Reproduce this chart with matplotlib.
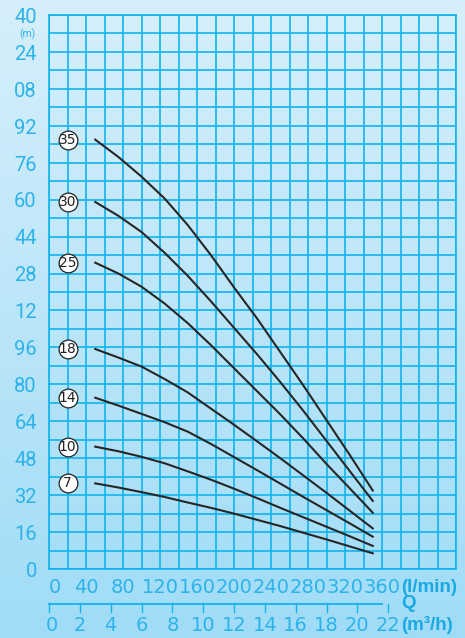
import numpy as np
import matplotlib
matplotlib.use('Agg')
import matplotlib.pyplot as plt

# Расход, л/мин (точки)
q_lmin = [50, 75, 100, 125, 150, 175, 200, 225, 250, 275, 300, 325, 350]

# Напор, м, для каждой модели (число ступеней)
head_35 = [186, 178.5, 170, 160.5, 149, 136, 122, 108.5, 94, 79.5, 64.5, 49.5, 34]
head_30 = [159, 153, 146, 137, 127, 116, 104.5, 93, 81, 68.5, 55.5, 42.5, 29.5]
head_25 = [132.7, 128, 122.3, 115, 106.5, 97, 87, 77, 67, 56.5, 45.5, 35, 24.4]
head_18 = [95.3, 91.6, 87.7, 82.3, 76.5, 69.5, 62.5, 55.3, 48, 40.5, 33, 25.3, 17.6]
head_14 = [74.2, 70.8, 67.2, 63.6, 59.5, 54.2, 48.5, 42.8, 37, 31.2, 25.5, 19.8, 14]
head_10 = [53, 51, 48.6, 45.8, 42.3, 38.7, 34.8, 30.7, 26.5, 22.4, 18.3, 14.2, 10]
head_7 = [37.1, 35.3, 33.3, 31.2, 28.8, 26.5, 24, 21.3, 18.6, 15.7, 12.8, 9.8, 6.8]

stages = ['35', '30', '25', '18', '14', '10', '7']
curves = [head_35, head_30, head_25, head_18, head_14, head_10, head_7]

# Подписи осей
y_ticks = list(range(0, 241, 16))
x_ticks = list(range(0, 361, 40))
q_m3h = list(range(0, 23, 2))

blue = '#10b4ee'
text_blue = '#2db3ea'

fig = plt.figure(figsize=(4.65, 6.38), dpi=100)

# Фон с градиентом
bg = fig.add_axes([0, 0, 1, 1])
grad = np.linspace(0, 1, 256).reshape(-1, 1)
top = np.array([0.84, 0.937, 0.984])
bottom = np.array([0.627, 0.863, 0.969])
img = top + (bottom - top) * grad[:, :, None]
bg.imshow(img, aspect='auto', extent=[0, 1, 0, 1])
bg.axis('off')

ax = fig.add_axes([49 / 465, 1 - 569 / 638, 407 / 465, 554 / 638])
ax.set_facecolor('none')
ax.set_xlim(0, 440)
ax.set_ylim(0, 240)
ax.set_xticks(np.arange(0, 441, 20))
ax.set_yticks(np.arange(0, 241, 8))
ax.grid(True, color=blue, lw=1.2)
ax.tick_params(length=0, labelbottom=False, labelleft=False)
for s in ax.spines.values():
    s.set_color(blue)
    s.set_linewidth(1.2)

# Кривые
for name, h in zip(stages, curves):
    ax.plot(q_lmin, h, color='#262626', lw=1.5, zorder=3, solid_joinstyle='round')
    ax.plot(20, h[0], 'o', ms=13.5, mfc='white', mec='#222222', mew=0.9, zorder=4)
    ax.text(20, h[0], name, ha='center', va='center', fontsize=10,
            family=['Liberation Sans Narrow', 'DejaVu Sans'], color='#222222', zorder=5)

# Подписи оси Y (только последние две цифры)
ytr = ax.get_yaxis_transform()
for v in y_ticks:
    lab = str(v) if v < 100 else '%02d' % (v % 100)
    ax.text(-0.03, v - 1, lab, transform=ytr, ha='right', va='center',
            fontsize=14.5, family='Roboto', color=text_blue)
ax.text(-0.054, 231.5, '(m)', transform=ytr, ha='center', va='center',
        fontsize=7.5, family='Roboto', color=text_blue)

# Подписи оси X (л/мин)
xtr = ax.get_xaxis_transform()
for v in x_ticks:
    xv = v + 6 if v == 0 else v
    ax.text(xv, -0.0325, str(v), transform=xtr, ha='center', va='center',
            fontsize=14, family=['Liberation Sans Narrow', 'DejaVu Sans'], color=text_blue)

# Вторая ось Q (м3/ч)
q_to_l = [m * 1000 / 60 for m in q_m3h]
ax.plot([0, 360], [-0.0632, -0.0632], transform=xtr, color=blue, lw=1.3, clip_on=False)
for m, xl in zip(q_m3h, q_to_l):
    ax.plot([xl, xl], [-0.0632, -0.0776], transform=xtr, color=blue, lw=1.0, clip_on=False)
    xv = xl + 3 if m == 0 else xl
    ax.text(xv, -0.102, str(m), transform=xtr, ha='center', va='center',
            fontsize=14, family=['Liberation Sans Narrow', 'DejaVu Sans'], color=text_blue)

fig.text(401 / 465, 1 - 587 / 638, '(l/min)', ha='left', va='center', fontsize=13.5,
         family='Liberation Sans', fontweight='bold', color='#1aa9e3')
fig.text(408 / 465, 1 - 604 / 638, 'Q', ha='center', va='center', fontsize=13.5,
         family='Liberation Sans', fontweight='bold', color='#1aa9e3')
fig.text(401 / 465, 1 - 625 / 638, '(m³/h)', ha='left', va='center', fontsize=13.5,
         family='Liberation Sans', fontweight='bold', color='#1aa9e3')

fig.savefig('out.png', dpi=100)
